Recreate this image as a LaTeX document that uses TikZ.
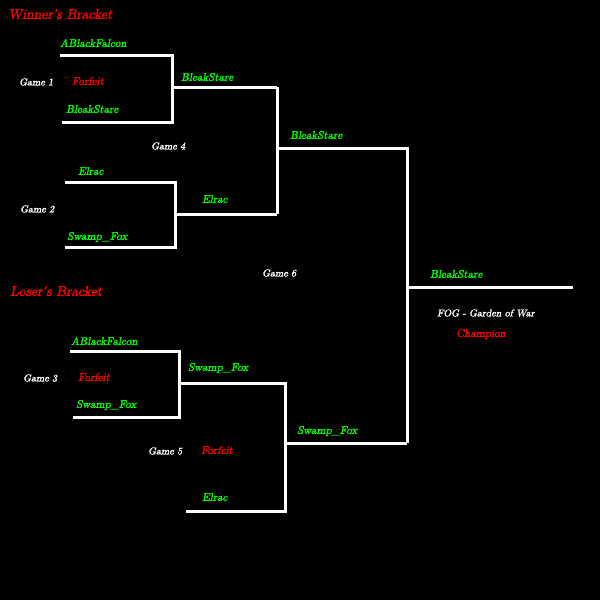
\documentclass[tikz,border=0pt]{standalone}
\usepackage{fontspec}
\newfontfamily\cast[FakeSlant=0.2,FakeBold=2]{Latin Modern Roman}
\begin{document}
\begin{tikzpicture}[x=1pt,y=-1pt,
  ln/.style={white,line width=3pt},
  nm/.style={anchor=west,inner sep=0pt,text=green,font=\cast\scshape\fontsize{11}{12}\selectfont},
  ff/.style={anchor=west,inner sep=0pt,text=red,font=\cast\scshape\fontsize{11}{12}\selectfont},
  gm/.style={anchor=west,inner sep=0pt,text=white,font=\cast\scshape\fontsize{10}{12}\selectfont},
  hd/.style={anchor=west,inner sep=0pt,text=red,font=\cast\scshape\fontsize{14}{16}\selectfont}]
\fill[black] (0,0) rectangle (600,600);
\useasboundingbox (0,0) rectangle (600,600);
% winners
\draw[ln] (60,55) -| (172,122) -- (62,122);
\draw[ln] (172,87) -- (277,87);
\draw[ln] (65,182) -| (175,247) -- (65,247);
\draw[ln] (175,214) -- (277,214);
\draw[ln] (277,87) -- (277,214);
\draw[ln] (277,148) -| (407,443);
% losers
\draw[ln] (70,351) -| (179,417) -- (73,417);
\draw[ln] (179,383) -| (285,511) -- (186,511);
\draw[ln] (285,443) -- (407,443);
\draw[ln] (407,287) -- (573,287);
% texts
\node[hd] (h1) at (8,14) {Winner's Bracket};
\node[hd] (h2) at (10,291) {Loser's Bracket};
\node[nm] (a1) at (60,43) {ABlackFalcon};
\node[gm] (g1) at (19,82) {Game 1};
\node[ff] (f1) at (72,81) {Forfeit};
\node[nm] (b1) at (66,109) {BleakStare};
\node[nm] (b2) at (181,77) {BleakStare};
\node[gm] (g4) at (151,146) {Game 4};
\node[nm] (e1) at (78,171) {Elrac};
\node[nm] (e2) at (202,199) {Elrac};
\node[gm] (g2) at (20,209) {Game 2};
\node[nm] (s1) at (67,237) {Swamp\_Fox};
\node[nm] (b3) at (290,135) {BleakStare};
\node[gm] (g6) at (262,273) {Game 6};
\node[nm] (b4) at (430,274) {BleakStare};
\node[gm] (fog) at (437,313) {FOG - Garden of War};
\node[ff] (ch) at (456,334) {Champion};
\node[nm] (a2) at (71,341) {ABlackFalcon};
\node[gm] (g3) at (23,378) {Game 3};
\node[ff] (f3) at (78,377) {Forfeit};
\node[nm] (s2) at (76,405) {Swamp\_Fox};
\node[nm] (s3) at (188,368) {Swamp\_Fox};
\node[nm] (s4) at (297,431) {Swamp\_Fox};
\node[gm] (g5) at (148,451) {Game 5};
\node[ff] (f5) at (201,450) {Forfeit};
\node[nm] (e3) at (202,497) {Elrac};
\end{tikzpicture}
\end{document}
